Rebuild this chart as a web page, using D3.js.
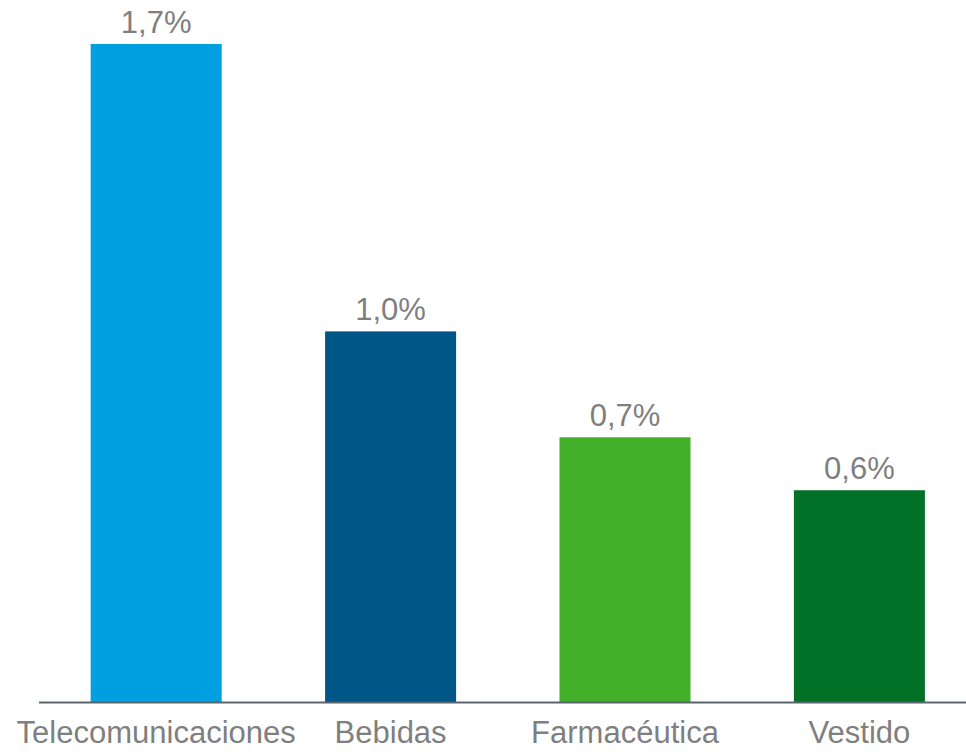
<!DOCTYPE html>
<html>
<head>
<meta charset="utf-8">
<script src="https://cdn.jsdelivr.net/npm/d3@7"></script>
<style>
  html, body { margin: 0; padding: 0; background: #ffffff; }
  svg { display: block; }
</style>
</head>
<body>
<svg id="chart" width="966" height="752"></svg>
<script>
const categories = ["Telecomunicaciones", "Bebidas", "Farmacéutica", "Vestido"];
const values = [1.74, 0.98, 0.70, 0.56];
const colors = ["#00A0E0", "#005687", "#43B02A", "#007126"];

const svg = d3.select("#chart");
const W = 966, H = 752;
const baseY = 702;

const x = d3.scaleBand()
  .domain(categories)
  .range([39, 976.6])
  .paddingInner(0.441)
  .paddingOuter(0.2205);

const y = d3.scaleLinear()
  .domain([0, 1.74])
  .range([baseY, 44]);

const fmt = v => d3.format(".1f")(v).replace(".", ",") + "%";

svg.selectAll("rect.bar")
  .data(categories)
  .join("rect")
  .attr("class", "bar")
  .attr("x", d => x(d))
  .attr("width", x.bandwidth())
  .attr("y", (d, i) => y(values[i]))
  .attr("height", (d, i) => baseY - y(values[i]))
  .attr("fill", (d, i) => colors[i]);

svg.selectAll("text.val")
  .data(categories)
  .join("text")
  .attr("class", "val")
  .attr("x", d => x(d) + x.bandwidth() / 2)
  .attr("y", (d, i) => y(values[i]) - 11)
  .attr("text-anchor", "middle")
  .attr("font-family", "Liberation Sans, Arial, sans-serif")
  .attr("font-size", 31)
  .attr("fill", "#7f7f7f")
  .text((d, i) => fmt(values[i]));

// baseline axis
const xAxis = d3.axisBottom(x).tickSize(0).tickPadding(0);
const gx = svg.append("g").attr("transform", `translate(0,${baseY})`).call(xAxis);
gx.select(".domain")
  .attr("d", `M39,0.5H966`)
  .attr("stroke", "#5a646c")
  .attr("stroke-width", 2);
gx.selectAll(".tick text")
  .attr("y", 41)
  .attr("dy", 0)
  .attr("font-family", "Liberation Sans, Arial, sans-serif")
  .attr("font-size", 31)
  .attr("fill", "#7f7f7f");
</script>
</body>
</html>
